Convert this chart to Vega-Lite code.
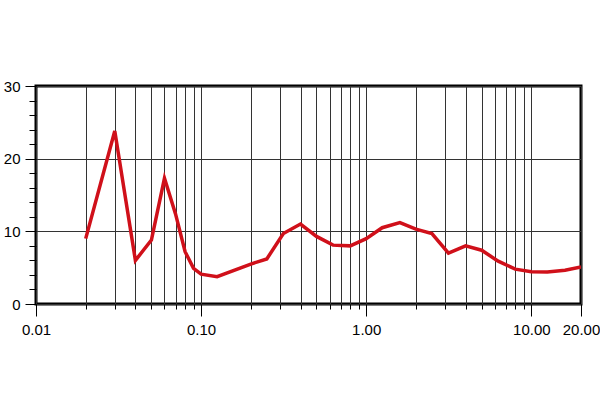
{
  "$schema": "https://vega.github.io/schema/vega-lite/v6.json",
  "autosize": "none",
  "width": 545,
  "height": 218,
  "padding": {"left": 36, "top": 86, "right": 19, "bottom": 116},
  "background": "white",
  "config": {
    "view": {"stroke": "black", "strokeWidth": 3},
    "axis": {"labelFont": "Liberation Sans", "labelFontSize": 15, "labelColor": "black", "tickColor": "black", "gridColor": "#333333", "gridWidth": 1, "domain": false, "title": null}
  },
  "data": {"values": [
    {"x": 0.02, "y": 9.0},
    {"x": 0.03, "y": 23.8},
    {"x": 0.04, "y": 6.0},
    {"x": 0.05, "y": 8.8},
    {"x": 0.06, "y": 17.3},
    {"x": 0.07, "y": 12.4},
    {"x": 0.08, "y": 7.2},
    {"x": 0.09, "y": 4.9},
    {"x": 0.1, "y": 4.1},
    {"x": 0.125, "y": 3.75},
    {"x": 0.2, "y": 5.5},
    {"x": 0.25, "y": 6.2},
    {"x": 0.315, "y": 9.7},
    {"x": 0.4, "y": 11.0},
    {"x": 0.5, "y": 9.3},
    {"x": 0.63, "y": 8.1},
    {"x": 0.8, "y": 8.0},
    {"x": 1.0, "y": 9.0},
    {"x": 1.25, "y": 10.5},
    {"x": 1.6, "y": 11.2},
    {"x": 2.0, "y": 10.3},
    {"x": 2.5, "y": 9.7},
    {"x": 3.15, "y": 7.0},
    {"x": 4.0, "y": 8.0},
    {"x": 5.0, "y": 7.4},
    {"x": 6.3, "y": 5.9},
    {"x": 8.0, "y": 4.8},
    {"x": 10.0, "y": 4.45},
    {"x": 12.5, "y": 4.4},
    {"x": 16.0, "y": 4.65},
    {"x": 20.0, "y": 5.1}
  ]},
  "mark": {"type": "line", "color": "#d0101a", "strokeWidth": 3.5, "strokeJoin": "miter", "clip": true},
  "encoding": {
    "x": {
      "field": "x", "type": "quantitative",
      "scale": {"type": "log", "domain": [0.01, 20], "nice": false},
      "axis": {
        "values": [0.01,0.02,0.03,0.04,0.05,0.06,0.07,0.08,0.09,0.1,0.2,0.3,0.4,0.5,0.6,0.7,0.8,0.9,1,2,3,4,5,6,7,8,9,10,20],
        "grid": true,
        "labelOverlap": false,
        "labelFlush": false,
        "labelPadding": 6,
        "tickSize": {"condition": {"test": "datum.value == 0.01 || datum.value == 0.1 || datum.value == 1 || datum.value == 10 || datum.value == 20", "value": 12}, "value": 5},
        "labelExpr": "(datum.value == 0.01 || datum.value == 0.1 || datum.value == 1 || datum.value == 10 || datum.value == 20) ? format(datum.value, '.2f') : ''"
      }
    },
    "y": {
      "field": "y", "type": "quantitative",
      "scale": {"domain": [0, 30], "nice": false},
      "axis": {
        "values": [0,2,4,6,8,10,12,14,16,18,20,22,24,26,28,30],
        "grid": true,
        "labelOverlap": false,
        "labelPadding": 5,
        "gridOpacity": {"condition": {"test": "datum.value % 10 == 0", "value": 1}, "value": 0},
        "tickSize": {"condition": {"test": "datum.value % 10 == 0", "value": 11}, "value": 7},
        "labelExpr": "datum.value % 10 == 0 ? datum.label : ''"
      }
    }
  }
}
